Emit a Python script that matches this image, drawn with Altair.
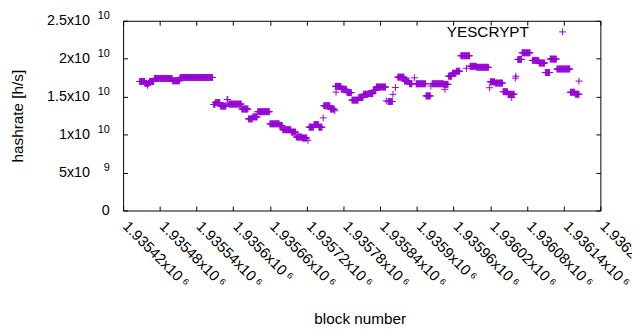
import altair as alt
import pandas as pd

# ---- data: runs of consecutive blocks sharing one hashrate estimate ----
run_start = [1935447, 1935456, 1935460, 1935461, 1935463, 1935471, 1935501, 1935513,
             1935568, 1935571, 1935579, 1935590, 1935593, 1935614, 1935625, 1935632,
             1935640, 1935660, 1935676, 1935681, 1935695, 1935703, 1935713, 1935722,
             1935724, 1935732, 1935740, 1935747, 1935748, 1935759, 1935766, 1935767,
             1935768, 1935777, 1935786, 1935794, 1935805, 1935813, 1935821, 1935829,
             1935834, 1935850, 1935853, 1935861, 1935865, 1935869, 1935880, 1935888,
             1935896, 1935899, 1935915, 1935923, 1935925, 1935944, 1935946, 1935952,
             1935958, 1935965, 1935972, 1935981, 1935987, 1935998, 1936019, 1936020,
             1936028, 1936041, 1936049, 1936055, 1936061, 1936062, 1936065, 1936072,
             1936089, 1936100, 1936110, 1936118, 1936129, 1936151, 1936159, 1936165]
run_end = [1935456, 1935460, 1935461, 1935463, 1935471, 1935501, 1935513, 1935567,
           1935571, 1935579, 1935589, 1935592, 1935614, 1935625, 1935632, 1935640,
           1935660, 1935676, 1935681, 1935695, 1935703, 1935713, 1935721, 1935723,
           1935732, 1935740, 1935746, 1935748, 1935759, 1935766, 1935767, 1935777,
           1935769, 1935786, 1935794, 1935805, 1935813, 1935821, 1935829, 1935834,
           1935850, 1935851, 1935861, 1935862, 1935866, 1935880, 1935888, 1935893,
           1935897, 1935915, 1935923, 1935924, 1935944, 1935952, 1935947, 1935958,
           1935965, 1935971, 1935987, 1935982, 1935998, 1936018, 1936020, 1936028,
           1936041, 1936049, 1936060, 1936056, 1936062, 1936063, 1936072, 1936086,
           1936100, 1936110, 1936118, 1936129, 1936151, 1936159, 1936166, 1936166]
run_value = [1.700e10, 1.675e10, 1.649e10, 1.675e10, 1.700e10, 1.740e10, 1.709e10, 1.753e10,
             1.397e10, 1.423e10, 1.376e10, 1.462e10, 1.402e10, 1.337e10, 1.207e10, 1.233e10,
             1.302e10, 1.142e10, 1.120e10, 1.064e10, 1.033e10, 0.968e10, 0.955e10, 0.925e10,
             1.098e10, 1.133e10, 1.098e10, 1.220e10, 1.380e10, 1.337e10, 1.315e10, 1.636e10,
             1.560e10, 1.597e10, 1.553e10, 1.454e10, 1.488e10, 1.532e10, 1.540e10, 1.584e10,
             1.627e10, 1.445e10, 1.436e10, 1.530e10, 1.620e10, 1.757e10, 1.705e10, 1.670e10,
             1.748e10, 1.670e10, 1.510e10, 1.640e10, 1.670e10, 1.662e10, 1.597e10, 1.770e10,
             1.809e10, 1.835e10, 2.039e10, 1.874e10, 1.900e10, 1.887e10, 1.618e10, 1.696e10,
             1.679e10, 1.566e10, 1.532e10, 1.488e10, 1.744e10, 1.770e10, 1.991e10, 2.078e10,
             1.978e10, 1.943e10, 1.818e10, 1.995e10, 1.865e10, 1.558e10, 1.532e10, 1.705e10]

series_name = "YESCRYPT"
x_tick_values = [1935420, 1935480, 1935540, 1935600, 1935660, 1935720, 1935780,
                 1935840, 1935900, 1935960, 1936020, 1936080, 1936140, 1936200]
y_tick_values = [0, 5e9, 1e10, 1.5e10, 2e10, 2.5e10]

blocks, rates = [], []
for s, e, v in zip(run_start, run_end, run_value):
    for b in range(s, e):
        blocks.append(b)
        rates.append(v)
df = pd.DataFrame({"block": blocks, "hashrate": rates, "series": series_name})
anchor = df.head(1)

# ---- style ----
W, H = 483, 192
PURPLE = "#9400D3"
CROSS = "M-1,0L1,0M0,-1L0,1"
FONT = "Liberation Sans"
TICK_FS = 14.5
XTICK_FS = 15
TITLE_FS = 15.5

xscale = alt.Scale(domain=[x_tick_values[0], x_tick_values[-1]], nice=False, zero=False)
yscale = alt.Scale(domain=[y_tick_values[0], y_tick_values[-1]], nice=False)

common = dict(grid=False, domain=False, labelFont=FONT, labelColor="black",
              labelOverlap=False, labelFlush=False, tickColor="black", tickWidth=1)


def tick_axis(orient, offset, values):
    return alt.Axis(orient=orient, offset=offset, values=values, labels=False, ticks=True,
                    tickSize=4.5, title="", **common)


x_main = alt.Axis(values=x_tick_values, orient="bottom",
                  labelExpr="format(datum.value / 1e6, '.5~f') + 'x10\u2009\u2076'",
                  labelAngle=45, labelAlign="left", labelBaseline="middle",
                  ticks=False, tickSize=0, labelPadding=13, labelOffset=2,
                  labelFontSize=XTICK_FS,
                  title="block number", titleFont=FONT, titleFontSize=TITLE_FS,
                  titleFontWeight="normal", titleColor="black", titleX=239.5, titleY=114.7,
                  titleBaseline="alphabetic", titleAlign="center", **common)

y_mant = alt.Axis(values=y_tick_values, orient="left",
                  labelExpr="datum.value == 0 ? '' : (datum.value >= 1e10 ? format(datum.value / 1e10, '~g') : format(datum.value / 1e9, '~g')) + 'x10'",
                  labelAlign="right", labelBaseline="middle", ticks=False, tickSize=0,
                  labelPadding=34, labelFontSize=TICK_FS,
                  title="hashrate [h/s]", titleFont=FONT, titleFontSize=TITLE_FS,
                  titleFontWeight="normal", titleColor="black", titleAngle=270,
                  titleX=-101.8, titleY=96, titleBaseline="alphabetic", titleAlign="center",
                  **common)

y_exp = alt.Axis(values=y_tick_values, orient="left",
                 labelExpr="datum.value == 0 ? '' : (datum.value >= 1e10 ? '10' : '9')",
                 labelAlign="right", labelBaseline="middle", ticks=False, tickSize=0,
                 labelPadding=14, labelFontSize=11, labelOffset=-5, title="", **common)

y_zero = alt.Axis(values=y_tick_values, orient="left",
                  labelExpr="datum.value == 0 ? '0' : ''",
                  labelAlign="right", labelBaseline="middle", ticks=False, tickSize=0,
                  labelPadding=14, labelFontSize=TICK_FS, title="", **common)

# gnuplot puts the key text left of its sample: one legend draws only the sample,
# a second one (on a ghost layer) draws only the text
legend_symbol = alt.Legend(title=None, orient="none", legendX=437, legendY=3.5,
                           labelExpr="''", labelOpacity=0, labelFontSize=TITLE_FS,
                           symbolType=CROSS, symbolSize=49, symbolStrokeWidth=1, padding=0)
legend_text = alt.Legend(title=None, orient="none", legendX=312, legendY=3.5,
                         labelOffset=0, labelFont=FONT, labelFontSize=TITLE_FS,
                         labelColor="black", symbolOpacity=0, symbolSize=49,
                         symbolStrokeWidth=0, padding=0)

points = alt.Chart(df).mark_point(shape=CROSS, filled=False, size=49, strokeWidth=1,
                                  opacity=1).encode(
    x=alt.X("block:Q", scale=xscale, axis=x_main),
    y=alt.Y("hashrate:Q", scale=yscale, axis=y_mant),
    color=alt.Color("series:N", scale=alt.Scale(domain=[series_name], range=[PURPLE]),
                    legend=legend_symbol),
)

ghost = alt.Chart(anchor).mark_point(opacity=0)

l2 = ghost.encode(
    x=alt.X("block:Q", scale=xscale, axis=tick_axis("top", -H, x_tick_values)),
    y=alt.Y("hashrate:Q", scale=yscale, axis=y_exp),
    shape=alt.Shape("series:N", scale=alt.Scale(domain=[series_name], range=[CROSS]),
                    legend=legend_text),
)
l3 = ghost.encode(
    x=alt.X("block:Q", scale=xscale, axis=tick_axis("bottom", -H, x_tick_values)),
    y=alt.Y("hashrate:Q", scale=yscale, axis=tick_axis("right", -W, y_tick_values)),
)
l4 = ghost.encode(
    x=alt.X("block:Q", scale=xscale, axis=None),
    y=alt.Y("hashrate:Q", scale=yscale, axis=tick_axis("left", -W, y_tick_values)),
)
l5 = ghost.encode(
    x=alt.X("block:Q", scale=xscale, axis=None),
    y=alt.Y("hashrate:Q", scale=yscale, axis=y_zero),
)

chart = alt.layer(points, l2, l3, l4, l5).resolve_axis(
    x="independent", y="independent"
).resolve_legend(color="independent", shape="independent").properties(
    width=W, height=H,
    padding={"left": 116.5, "top": 11, "right": 32, "bottom": 118},
    autosize=alt.AutoSizeParams(type="none"),
    background="white",
).configure_view(stroke="black", strokeWidth=1)

chart.save("out.html", embed_options={"renderer": "svg", "actions": False})
